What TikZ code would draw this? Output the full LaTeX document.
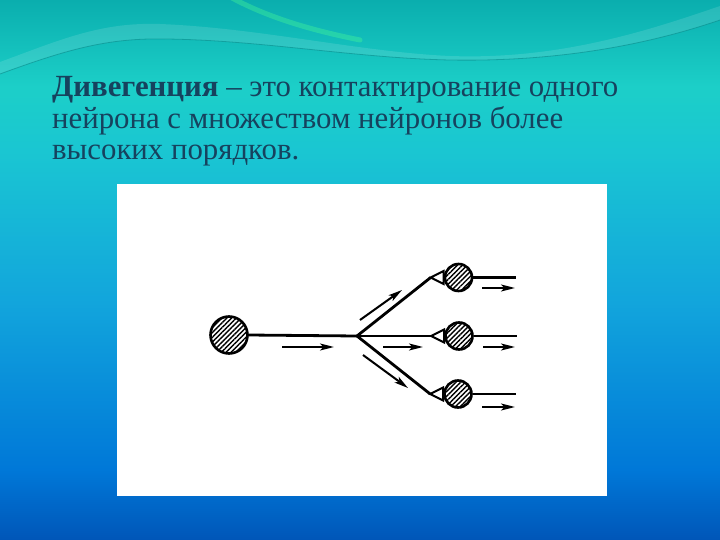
\documentclass[tikz,border=0pt]{standalone}
\usepackage{fontspec}
\setmainfont{Liberation Serif}
\usetikzlibrary{calc,positioning,arrows.meta,patterns.meta}
\definecolor{slidetext}{RGB}{22,66,94}
\definecolor{bgA}{HTML}{0056B8}
\definecolor{bgB}{HTML}{0078D8}
\definecolor{bgC}{HTML}{12A5DC}
\definecolor{bgD}{HTML}{1AC6D2}
\definecolor{bgE}{HTML}{1CCFC8}
\definecolor{bgF}{HTML}{0AAEAE}
\pgfdeclareverticalshading{slidebg}{100bp}{color(0bp)=(bgA); color(25bp)=(bgA);
  color(31.5bp)=(bgB); color(47bp)=(bgC); color(61bp)=(bgD); color(67bp)=(bgE);
  color(75bp)=(bgF); color(100bp)=(bgF)}
\tikzset{
  neuron/.style={circle, draw, line width=2.6pt, fill=white,
    pattern={Lines[angle=45,distance=3.4pt,line width=1.4pt]},
    inner sep=0pt, minimum size=#1},
  neuron/.default=27pt,
  fibre/.style={line width=2.8pt},
  flow/.style={line width=2pt, -{Stealth[length=14pt,width=7pt,inset=3.5pt]}},
  synapse/.style={line width=2pt, fill=white, line join=miter}
}
\begin{document}
\begin{tikzpicture}[x=1pt, y=-1pt]
\useasboundingbox (0,0) rectangle (720,540);
% background of the slide
\shade[shading=slidebg] (0,0) rectangle (720,540);
\fill[white, opacity=0.12] (0,62) .. controls (60,40) and (100,22) .. (160,24)
  .. controls (260,28) and (360,52) .. (450,56) .. controls (560,60) and (650,30) .. (720,6)
  -- (720,20) .. controls (650,44) and (560,62) .. (450,60)
  .. controls (350,58) and (250,38) .. (150,39) .. controls (100,40) and (60,52) .. (0,74) -- cycle;
\draw[bgF!80!black, line width=0.8pt, opacity=0.6] (0,74) .. controls (60,52) and (100,40) .. (150,39)
  .. controls (250,38) and (350,58) .. (450,60) .. controls (560,62) and (650,44) .. (720,20);
\draw[green!60!cyan!70!white, line width=5pt, opacity=0.35, line cap=round] (232,-2) .. controls (262,14) and (300,28) .. (360,40);
% title text
\node[anchor=base west, align=left, text=slidetext, font=\fontsize{30.8}{31.5}\selectfont,
  inner sep=0pt] (title) at (52,160)
  {\textbf{Дивегенция} – это контактирование одного\\
   нейрона с множеством нейронов более\\
   высоких порядков.};
% picture frame
\fill[white] (117,184) rectangle (607,496);
% neurons
\node[neuron=37pt] (src) at (229,335) {};
\node[neuron] (n1) at (458.5,277.5) {};
\node[neuron] (n2) at (459,336) {};
\node[neuron] (n3) at (458,394) {};
\coordinate (fork) at (357,336);
\foreach \i in {1,2,3} {
  \coordinate (tip\i) at ($(n\i.west)+(-13,0)$);
  \coordinate (out\i) at ($(n\i.east)+(43,0)$);
}
% fibres
\draw[fibre] (src.east) -- (fork);
\foreach \i in {1,2,3} {
  \draw[fibre] (fork) -- (tip\i);
  \draw[synapse] (tip\i) -- ($(n\i.west)+(0,-6.5)$) -- ($(n\i.west)+(0,6.5)$) -- cycle;
  \draw[fibre] (n\i.east) -- (out\i);
}
% direction of conduction
\foreach \a/\b in {{(282,347)}/{(334,347)}, {(360,320)}/{(402,290)},
  {(383,347)}/{(423,347)}, {(363,355)}/{(408,388)}, {(482,288)}/{(515,288)},
  {(483,347)}/{(515,347)}, {(482,407)}/{(515,407)}}
  \draw[flow] \a -- \b;
\end{tikzpicture}
\end{document}
